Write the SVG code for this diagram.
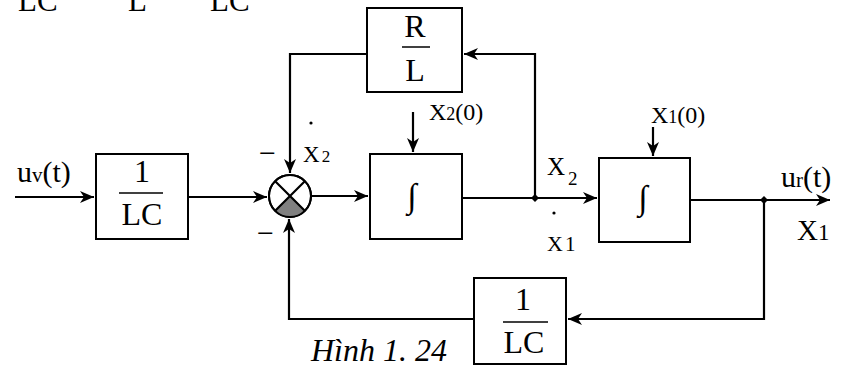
<svg xmlns="http://www.w3.org/2000/svg" width="841" height="365" viewBox="0 0 841 365">
<style>
.b{fill:#fff;stroke:#000;stroke-width:2}
.l{fill:none;stroke:#000;stroke-width:2.2}
.t{font-family:"Liberation Serif","Times New Roman",serif;fill:#000}
.f{font-size:32px;text-anchor:middle}
.fl{stroke:#000;stroke-width:1.5}
</style>
<defs>
<marker id="a" markerUnits="userSpaceOnUse" markerWidth="16" markerHeight="12" refX="14" refY="6" orient="auto">
<path d="M0,0 L14,6 L0,12 L4,6 z" fill="#000"/>
</marker>
</defs>
<rect width="841" height="365" fill="#fff"/>
<g id="topcut" class="t">
<text x="18" y="11" font-size="31">LC</text>
<text x="128" y="11" font-size="31">L</text>
<text x="210" y="11" font-size="31">LC</text>
</g>
<g id="connectors">
<path class="l" d="M15,197 H94" marker-end="url(#a)"/>
<path class="l" d="M188,197 H267" marker-end="url(#a)"/>
<path class="l" d="M311,196 H368" marker-end="url(#a)"/>
<path class="l" d="M462,198 H597" marker-end="url(#a)"/>
<path class="l" d="M535,198 V54 H464" marker-end="url(#a)"/>
<path class="l" d="M367,54 H290 V173" marker-end="url(#a)"/>
<path class="l" d="M690,200 H830" marker-end="url(#a)"/>
<path class="l" d="M764,200 V319 H568" marker-end="url(#a)"/>
<path class="l" d="M474,319 H289 V219" marker-end="url(#a)"/>
<path class="l" d="M413,112 V152" marker-end="url(#a)"/>
<path class="l" d="M653,127 V156" marker-end="url(#a)"/>
<path d="M535,194 L539,198 L535,202 L531,198 z" fill="#000"/>
<path d="M764,196 L768,200 L764,204 L760,200 z" fill="#000"/>
</g>
<g id="gain1">
<rect class="b" x="96" y="154" width="92" height="85"/>
<text class="t f" x="142" y="182">1</text>
<line class="fl" x1="119" y1="193" x2="163" y2="193"/>
<text class="t f" x="142" y="225">LC</text>
</g>
<g id="sum">
<circle cx="290" cy="196" r="21" fill="#fff" stroke="#000" stroke-width="2"/>
<path d="M290,196 L275.2,210.8 A21,21 0 0 0 304.8,210.8 z" fill="#808080"/>
<path class="l" d="M275.2,181.2 L304.8,210.8 M304.8,181.2 L275.2,210.8"/>
<circle cx="290" cy="196" r="21" fill="none" stroke="#000" stroke-width="2"/>
</g>
<g id="gainRL">
<rect class="b" x="367" y="8" width="95" height="84"/>
<text class="t f" x="415" y="37">R</text>
<line class="fl" x1="402" y1="47" x2="430" y2="47"/>
<text class="t f" x="415" y="81">L</text>
</g>
<g id="int1">
<rect class="b" x="370" y="154" width="92" height="85"/>
<text class="t" x="412" y="207" font-size="34" text-anchor="middle">∫</text>
</g>
<g id="int2">
<rect class="b" x="599" y="158" width="91" height="84"/>
<text class="t" x="643" y="209" font-size="34" text-anchor="middle">∫</text>
</g>
<g id="gain2">
<rect class="b" x="474" y="278" width="92" height="86"/>
<text class="t f" x="523" y="310">1</text>
<line class="fl" x1="503" y1="322" x2="548" y2="322"/>
<text class="t f" x="524" y="353">LC</text>
</g>
<g id="labels" class="t">
<text x="17" y="182" font-size="30">u<tspan font-size="21">v</tspan>(t)</text>
<text x="781" y="187" font-size="30">u<tspan font-size="21">r</tspan>(t)</text>
<text x="259" y="163" font-size="30">−</text>
<text x="257" y="243" font-size="30">−</text>
<circle cx="311" cy="123" r="1.6" fill="#000"/>
<text x="303" y="162" font-size="23">X<tspan font-size="17" dx="2">2</tspan></text>
<text x="429" y="120" font-size="24">X<tspan font-size="18">2</tspan>(0)</text>
<text x="651" y="123" font-size="24">X<tspan font-size="18">1</tspan>(0)</text>
<text x="547" y="175" font-size="25">X<tspan font-size="19" dx="3" dy="10">2</tspan></text>
<circle cx="554" cy="213" r="1.6" fill="#000"/>
<text x="547" y="251" font-size="22">X<tspan font-size="21" dx="2">1</tspan></text>
<text x="797" y="240" font-size="29">X<tspan font-size="23">1</tspan></text>
<text x="311" y="361" font-size="32" font-style="italic">Hình 1. 24</text>
</g>
</svg>
